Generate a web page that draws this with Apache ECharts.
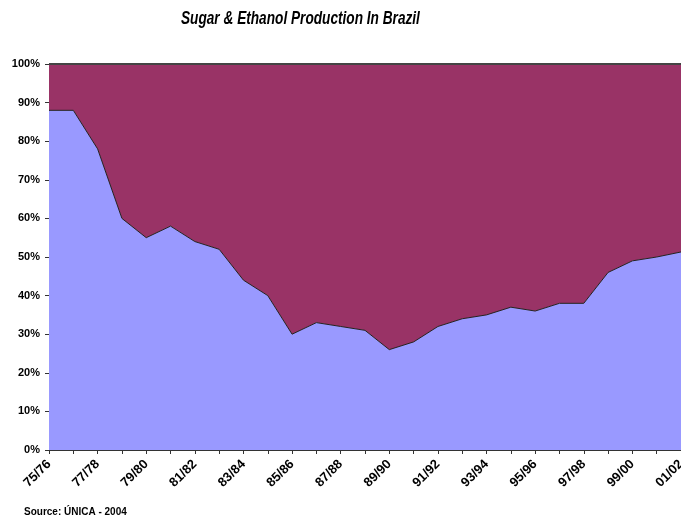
<!DOCTYPE html>
<html>
<head>
<meta charset="utf-8">
<script src="https://cdn.jsdelivr.net/npm/echarts@6/dist/echarts.min.js"></script>
<style>
  html, body { margin: 0; padding: 0; background: #fff; }
  #chart { width: 681px; height: 519px; }
</style>
</head>
<body>
<div id="chart"></div>
<script>
// Share of sugar vs ethanol in Brazilian cane crop, 100% stacked areas.
const seasons = ['75/76', '76/77', '77/78', '78/79', '79/80', '80/81', '81/82', '82/83', '83/84',
  '84/85', '85/86', '86/87', '87/88', '88/89', '89/90', '90/91', '91/92', '92/93', '93/94',
  '94/95', '95/96', '96/97', '97/98', '98/99', '99/00', '00/01', '01/02'];
const sugarPct = [88, 88, 78, 60, 55, 58, 54, 52, 44, 40, 30, 33, 32, 31, 26, 28, 32, 34, 35,
  37, 36, 38, 38, 46, 49, 50, 51.3];
const ethanolPct = [12, 12, 22, 40, 45, 42, 46, 48, 56, 60, 70, 67, 68, 69, 74, 72, 68, 66, 65,
  63, 64, 62, 62, 54, 51, 50, 48.7];

const chart = echarts.init(document.getElementById('chart'));
const FONT = 'Arial, "Liberation Sans", sans-serif';
const boldFont = { fontFamily: FONT, fontWeight: 'bold', color: '#000' };

chart.setOption({
  animation: false,
  grid: { left: 49, right: 0, top: 64, bottom: 69, outerBoundsMode: 'none' },
  xAxis: {
    type: 'category',
    data: seasons,
    boundaryGap: false,
    axisLine: { lineStyle: { color: '#333', width: 1 } },
    axisTick: { interval: 0, length: 4, lineStyle: { color: '#333' } },
    axisLabel: { ...boldFont, fontSize: 13, rotate: 45, interval: 1, margin: 12 }
  },
  yAxis: {
    type: 'value',
    min: 0, max: 100, interval: 10,
    axisLine: { show: true, lineStyle: { color: '#333', width: 1 } },
    axisTick: { show: true, length: 4, lineStyle: { color: '#333' } },
    splitLine: { show: false },
    axisLabel: { ...boldFont, fontSize: 11, margin: 9, formatter: '{value}%' }
  },
  series: [
    {
      name: 'Sugar Production', type: 'line', stack: 'total', data: sugarPct,
      symbol: 'none', lineStyle: { color: '#222', width: 1 },
      areaStyle: { color: '#9999ff', opacity: 1 }
    },
    {
      name: 'Ethanol Production', type: 'line', stack: 'total', data: ethanolPct,
      symbol: 'none', lineStyle: { color: '#444', width: 2 },
      areaStyle: { color: '#993366', opacity: 1 }
    }
  ],
  graphic: [
    // title is a condensed bold italic face; squeeze Arial to match
    { type: 'text', x: 181, y: 10, scaleX: 0.78,
      style: { text: 'Sugar & Ethanol Production In Brazil', font: 'italic bold 17.5px ' + FONT, fill: '#000' } },
    { type: 'text', left: 311, top: 157, style: { text: 'Ethanol Production', font: 'bold 13px ' + FONT, fill: '#000' } },
    { type: 'text', left: 161, top: 366, style: { text: 'Sugar Production', font: 'bold 13px ' + FONT, fill: '#000' } },
    { type: 'text', left: 24, top: 507, style: { text: 'Source: ÚNICA - 2004', font: 'bold 10px ' + FONT, fill: '#000' } }
  ]
});
</script>
</body>
</html>
